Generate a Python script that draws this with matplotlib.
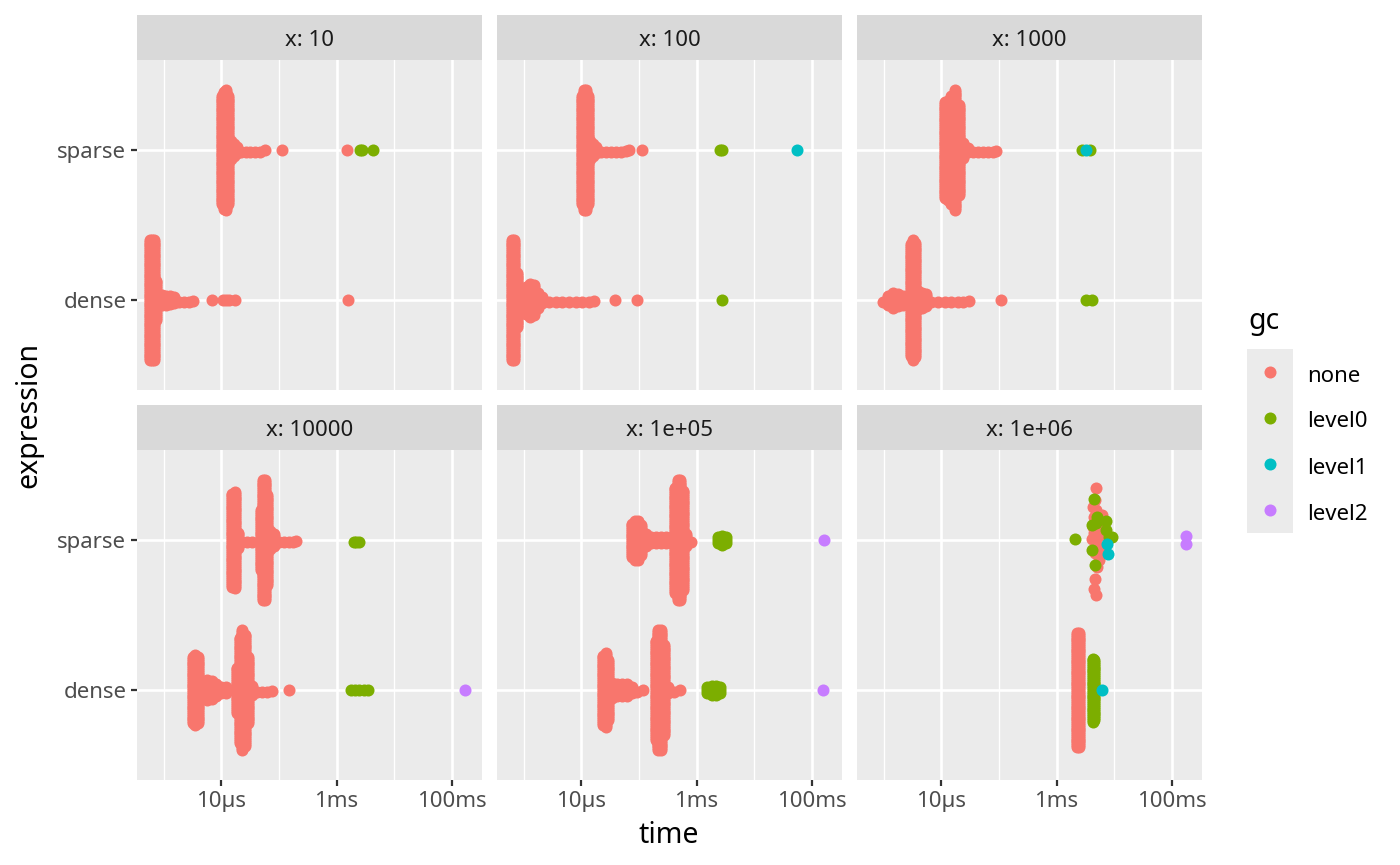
import matplotlib
matplotlib.use("Agg")
import matplotlib.pyplot as plt
from matplotlib.ticker import NullFormatter
import numpy as np

plt.rcParams['font.family'] = ['Noto Sans', 'DejaVu Sans']

# facets, expressions and gc levels
facets = ["x: 10", "x: 100", "x: 1000", "x: 10000", "x: 1e+05", "x: 1e+06"]
expressions = ["dense", "sparse"]
levels = ["none", "level0", "level1", "level2"]
level_colors = ["#F8766D", "#7CAE00", "#00BFC4", "#C77CFF"]

# times in microseconds, h = half height of the swarm at that time (in category units)
# x: 10
f10_sparse_none_t = [10.4, 11.3, 12.2, 13.2, 14.7, 16.4, 18.7, 21.9, 26.5, 31.9, 38.9, 47.5, 58.1, 113, 1520]
f10_sparse_none_h = [0.36, 0.39, 0.40, 0.36, 0.06, 0.04, 0.02, 0.01, 0.01, 0.01, 0.01, 0.01, 0, 0, 0]
f10_sparse_level0_t = [2520, 2730, 4355]
f10_dense_none_t = [0.585, 0.634, 0.687, 0.744, 0.828, 0.946, 1.11, 1.30, 1.53, 1.82, 2.22, 2.71, 3.18,
                    6.89, 10.7, 12.2, 13.4, 17.3, 1582]
f10_dense_none_h = [0.40, 0.40, 0.40, 0.13, 0.033, 0.033, 0.03, 0.025, 0.02, 0.01, 0.01, 0.01, 0.005,
                    0, 0, 0, 0, 0, 0]

# x: 100
f100_sparse_none_t = [10.1, 11.0, 11.9, 12.9, 14.3, 15.9, 18.2, 21.6, 26.5, 32.3, 39.5, 48.1, 58.8, 67.2, 114.6]
f100_sparse_none_h = [0.36, 0.40, 0.40, 0.36, 0.06, 0.04, 0.02, 0.01, 0.01, 0.01, 0.01, 0.01, 0.005, 0, 0]
f100_sparse_level0_t = [2600, 2750]
f100_sparse_level1_t = [55500]
f100_dense_none_t = [0.634, 0.687, 0.764, 0.897, 1.11, 1.30, 1.53, 1.745, 2.10, 2.75, 3.58, 4.68, 6.11,
                     7.97, 10.4, 13.6, 16.8, 37.9, 93.8]
f100_dense_none_h = [0.40, 0.40, 0.18, 0.06, 0.09, 0.11, 0.10, 0.05, 0.02, 0.01, 0.01, 0.01, 0.01,
                     0.01, 0.01, 0.01, 0.005, 0, 0]
f100_dense_level0_t = [2730]

# x: 1000
f1000_sparse_none_t = [11.4, 13.1, 14.9, 17.5, 20.5, 23.8, 29.0, 35.5, 43.3, 52.9, 64.6, 78.9, 90.1]
f1000_sparse_none_h = [0.32, 0.33, 0.36, 0.40, 0.30, 0.05, 0.015, 0.01, 0.01, 0.01, 0.01, 0.01, 0.005]
f1000_sparse_level0_t = [2768, 3760]
f1000_sparse_level1_t = [3204]
f1000_dense_none_t = [0.971, 1.19, 1.45, 1.77, 2.16, 2.97, 3.22, 3.49, 3.99, 4.56, 5.35, 6.71, 8.75,
                      11.4, 14.9, 19.5, 23.8, 29.8, 110]
f1000_dense_none_h = [0.01, 0.03, 0.05, 0.04, 0.03, 0.37, 0.40, 0.38, 0.06, 0.05, 0.04, 0.01, 0.01,
                      0.01, 0.01, 0.01, 0.01, 0.005, 0]
f1000_dense_level0_t = [3292, 4183]

# x: 10000
f1e4_sparse_none_t = [15.5, 17.3, 19.2, 22.9, 27.9, 34.1, 48.8, 52.9, 57.3, 62.1, 70.9, 83.2, 98.9,
                      121, 148, 175, 200]
f1e4_sparse_none_h = [0.31, 0.32, 0.05, 0.01, 0.01, 0.01, 0.20, 0.40, 0.40, 0.30, 0.06, 0.04, 0.01,
                      0.01, 0.01, 0.01, 0.005]
f1e4_sparse_level0_t = [2010, 2208, 2423]
f1e4_sparse_level0_h = [0.01, 0.01, 0.01]
f1e4_dense_none_t = [3.22, 3.54, 3.88, 4.62, 5.64, 6.89, 8.19, 9.87, 12.2, 18.7, 20.8, 23.2, 25.8, 28.7,
                     34.1, 41.6, 50.8, 62.1, 75.8, 148]
f1e4_dense_none_h = [0.22, 0.235, 0.22, 0.06, 0.065, 0.06, 0.04, 0.02, 0.02, 0.15, 0.35, 0.40, 0.37, 0.22,
                     0.03, 0.01, 0.01, 0.01, 0.005, 0]
f1e4_dense_level0_t = [1807, 2120, 2488, 2958, 3518]
f1e4_dense_level2_t = [167660]

# x: 1e+05
f1e5_sparse_none_t = [74.8, 85.5, 97.6, 110, 131, 160, 195, 238, 291, 356, 423, 470, 523, 582, 665, 791]
f1e5_sparse_none_h = [0.11, 0.13, 0.13, 0.10, 0.04, 0.02, 0.02, 0.02, 0.02, 0.02, 0.35, 0.40, 0.40, 0.33,
                      0.04, 0.01]
f1e5_sparse_level0_t = [2390, 2804, 3292]
f1e5_sparse_level0_h = [0.02, 0.03, 0.02]
f1e5_sparse_level2_t = [165450]
f1e5_dense_none_t = [23.8, 26.5, 29.4, 34.5, 42.2, 51.5, 62.9, 76.8, 93.8, 118, 195, 217, 242, 269,
                     324, 406, 510]
f1e5_dense_none_h = [0.23, 0.245, 0.20, 0.05, 0.04, 0.04, 0.04, 0.02, 0.01, 0, 0.33, 0.40, 0.40, 0.30,
                     0.02, 0.01, 0]
f1e5_dense_level0_t = [1540, 1830, 2148, 2520]
f1e5_dense_level0_h = [0.02, 0.03, 0.03, 0.02]
f1e5_dense_level2_t = [159000]

# x: 1e+06 (sparse points are scattered: dy = vertical offset)
f1e6_sparse_none_t = [4780, 4654, 4909, 4533, 4297, 6076, 4297, 5317, 4473, 6238, 4183, 4909, 6670,
                      5838, 4654, 5462, 5108, 4654, 4533, 4780]
f1e6_sparse_none_dy = [0.346, 0.268, 0.20, 0.156, 0.223, 0.167, 0.09, 0.078, 0.045, 0.033, 0.01, -0.022,
                       -0.045, -0.067, -0.089, -0.134, -0.179, -0.257, -0.324, -0.368]
f1e6_sparse_level0_t = [4473, 4074, 4909, 7320, 8146, 9063, 2092, 4183, 4654, 7129, 5108]
f1e6_sparse_level0_dy = [0.272, 0.10, 0.116, 0.127, 0.018, 0.018, 0.004, -0.067, -0.167, 0.067, 0.156]
f1e6_sparse_level1_t = [7618, 7930]
f1e6_sparse_level1_dy = [-0.029, -0.094]
f1e6_sparse_level2_t = [174580, 174580]
f1e6_sparse_level2_dy = [0.027, -0.027]
f1e6_dense_none_t = [2237, 2455]
f1e6_dense_none_h = [0.38, 0.38]
f1e6_dense_level0_t = [4240, 4473]
f1e6_dense_level0_h = [0.21, 0.20]
f1e6_dense_level1_t = [6076]

# (facet, expression, level, times, half heights, offsets)
groups = [
    (0, "sparse", "none", f10_sparse_none_t, f10_sparse_none_h, None),
    (0, "sparse", "level0", f10_sparse_level0_t, None, None),
    (0, "dense", "none", f10_dense_none_t, f10_dense_none_h, None),
    (1, "sparse", "none", f100_sparse_none_t, f100_sparse_none_h, None),
    (1, "sparse", "level0", f100_sparse_level0_t, None, None),
    (1, "sparse", "level1", f100_sparse_level1_t, None, None),
    (1, "dense", "none", f100_dense_none_t, f100_dense_none_h, None),
    (1, "dense", "level0", f100_dense_level0_t, None, None),
    (2, "sparse", "none", f1000_sparse_none_t, f1000_sparse_none_h, None),
    (2, "sparse", "level0", f1000_sparse_level0_t, None, None),
    (2, "sparse", "level1", f1000_sparse_level1_t, None, None),
    (2, "dense", "none", f1000_dense_none_t, f1000_dense_none_h, None),
    (2, "dense", "level0", f1000_dense_level0_t, None, None),
    (3, "sparse", "none", f1e4_sparse_none_t, f1e4_sparse_none_h, None),
    (3, "sparse", "level0", f1e4_sparse_level0_t, f1e4_sparse_level0_h, None),
    (3, "dense", "none", f1e4_dense_none_t, f1e4_dense_none_h, None),
    (3, "dense", "level0", f1e4_dense_level0_t, None, None),
    (3, "dense", "level2", f1e4_dense_level2_t, None, None),
    (4, "sparse", "none", f1e5_sparse_none_t, f1e5_sparse_none_h, None),
    (4, "sparse", "level0", f1e5_sparse_level0_t, f1e5_sparse_level0_h, None),
    (4, "sparse", "level2", f1e5_sparse_level2_t, None, None),
    (4, "dense", "none", f1e5_dense_none_t, f1e5_dense_none_h, None),
    (4, "dense", "level0", f1e5_dense_level0_t, f1e5_dense_level0_h, None),
    (4, "dense", "level2", f1e5_dense_level2_t, None, None),
    (5, "sparse", "none", f1e6_sparse_none_t, None, f1e6_sparse_none_dy),
    (5, "sparse", "level0", f1e6_sparse_level0_t, None, f1e6_sparse_level0_dy),
    (5, "sparse", "level1", f1e6_sparse_level1_t, None, f1e6_sparse_level1_dy),
    (5, "sparse", "level2", f1e6_sparse_level2_t, None, f1e6_sparse_level2_dy),
    (5, "dense", "none", f1e6_dense_none_t, f1e6_dense_none_h, None),
    (5, "dense", "level0", f1e6_dense_level0_t, f1e6_dense_level0_h, None),
    (5, "dense", "level1", f1e6_dense_level1_t, None, None),
]

W, H = 1400, 865
fig = plt.figure(figsize=(W / 100, H / 100), dpi=100)
fig.patch.set_facecolor("white")

small = 16
big = 20.5


def rect(x0, y0, x1, y1):
    return [x0 / W, 1 - y1 / H, (x1 - x0) / W, (y1 - y0) / H]


col_x = [137, 497, 857]
row_y = [(15, 60, 390), (405, 450, 780)]
pw = 345

axes = []
for i, name in enumerate(facets):
    r, c = divmod(i, 3)
    s0, p0, p1 = row_y[r]
    x0 = col_x[c]
    ax = fig.add_axes(rect(x0, p0, x0 + pw, p1))
    ax.set_facecolor("#EBEBEB")
    for sp in ax.spines.values():
        sp.set_visible(False)
    ax.set_xscale("log")
    ax.set_xlim(10 ** -6.465, 10 ** -0.475)
    ax.set_ylim(0.4, 2.6)
    ax.set_xticks([1e-5, 1e-3, 1e-1])
    ax.set_xticks([1e-6, 1e-4, 1e-2], minor=True)
    ax.set_xticklabels(["10µs", "1ms", "100ms"])
    ax.xaxis.set_minor_formatter(NullFormatter())
    ax.set_yticks([1, 2])
    ax.set_yticklabels(expressions)
    ax.set_axisbelow(True)
    ax.grid(which="major", color="white", lw=1.9)
    ax.grid(which="minor", axis="x", color="white", lw=1.0)
    ax.tick_params(which="minor", length=0)
    ax.tick_params(which="major", length=4.3, width=1.6, color="#333333",
                   labelcolor="#4D4D4D", labelsize=small, pad=3.4)
    if r == 0:
        ax.tick_params(axis="x", which="major", length=0, labelbottom=False)
    if c != 0:
        ax.tick_params(axis="y", which="major", length=0, labelleft=False)
    # strip
    sax = fig.add_axes(rect(x0, s0, x0 + pw, p0))
    sax.set_facecolor("#D9D9D9")
    sax.set_xticks([])
    sax.set_yticks([])
    for sp in sax.spines.values():
        sp.set_visible(False)
    fig.text((x0 + pw / 2) / W, 1 - ((s0 + p0) / 2 + 8.5) / H, name, ha="center", va="baseline",
             fontsize=small, color="#1A1A1A")
    axes.append(ax)

for fi, expr, lev, t, h, dy in groups:
    ax = axes[fi]
    ybase = expressions.index(expr) + 1
    if h is None:
        h = [0] * len(t)
    if dy is None:
        dy = [0] * len(t)
    xs, ys = [], []
    for ti, hi, di in zip(t, h, dy):
        n = int(hi / 0.012) * 2 + 1
        xs += [ti * 1e-6] * n
        ys += list(ybase + di + np.linspace(-hi, hi, n))
    ax.scatter(xs, ys, s=75, color=level_colors[levels.index(lev)], linewidths=0, zorder=3)

# axis titles
fig.text(669 / W, 1 - 843 / H, "time", ha="center", va="baseline", fontsize=big, color="black")
fig.text(28.5 / W, 1 - 415 / H, "expression", ha="center", va="center", rotation=90,
         fontsize=big, color="black")

# legend
lax = fig.add_axes([0, 0, 1, 1])
lax.set_xlim(0, W)
lax.set_ylim(H, 0)
lax.axis("off")
lax.add_patch(plt.Rectangle((1247, 349), 46, 184, color="#EBEBEB", lw=0))
fig.text(1248 / W, 1 - 329 / H, "gc", ha="left", va="baseline", fontsize=big, color="black")
for k, (lev, col) in enumerate(zip(levels, level_colors)):
    yk = 372 + 46 * k
    lax.scatter([1270], [yk], s=75, color=col, linewidths=0)
    fig.text(1307 / W, 1 - (yk + 9.5) / H, lev, ha="left", va="baseline", fontsize=small, color="black")

fig.savefig("out.png", dpi=100)
